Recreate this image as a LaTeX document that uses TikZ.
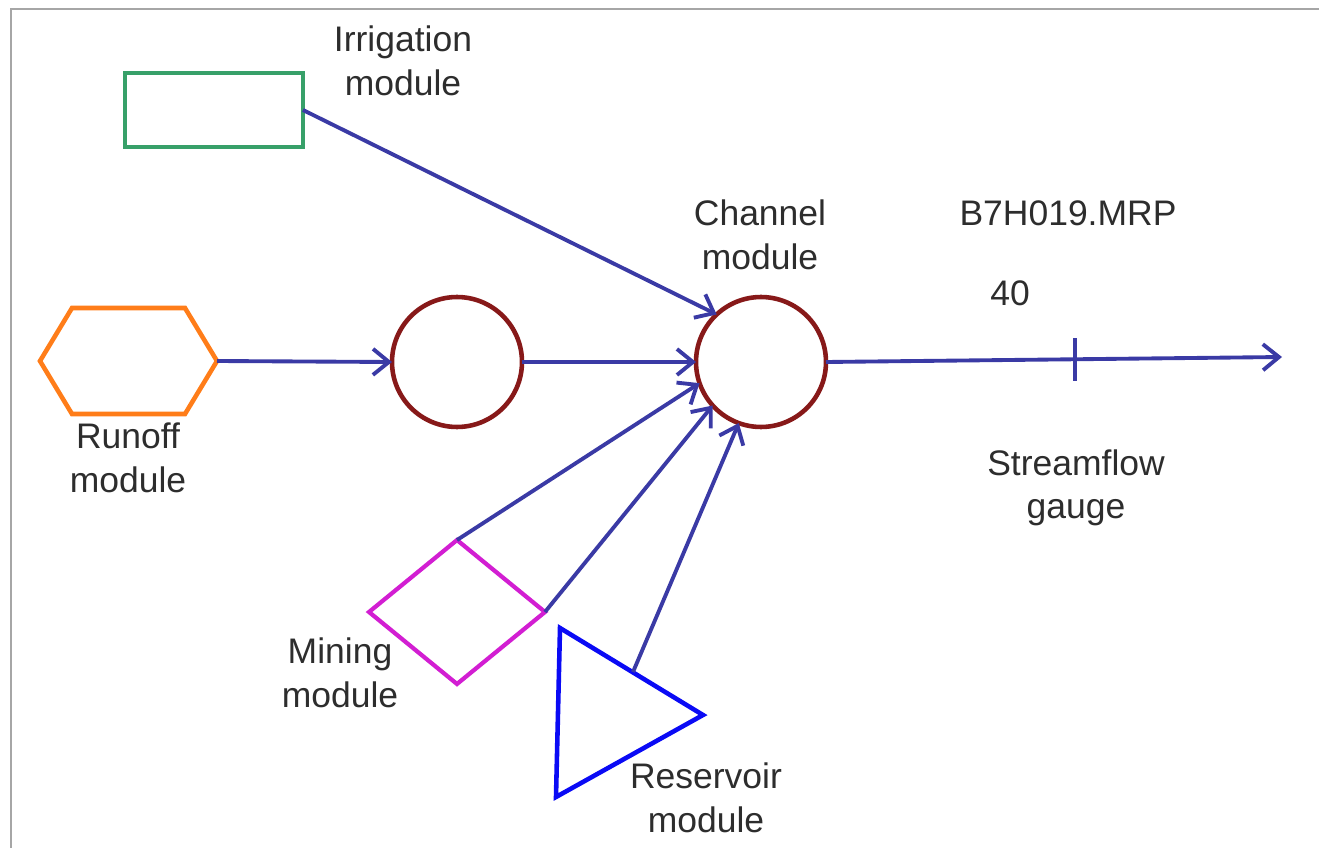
\documentclass[tikz,border=0pt]{standalone}
\usepackage{fontspec}
\setmainfont{Liberation Sans}
\usetikzlibrary{arrows.meta,shapes.geometric}

\definecolor{flowblue}{RGB}{58,58,165}
\definecolor{irrgreen}{RGB}{55,160,105}
\definecolor{runorange}{RGB}{255,125,25}
\definecolor{chanred}{RGB}{135,25,25}
\definecolor{minemag}{RGB}{210,30,210}
\definecolor{resblue}{RGB}{10,10,245}
\definecolor{labelgray}{RGB}{45,45,45}

\tikzset{
    flow/.style={draw=flowblue, line width=2.2pt, -{Straight Barb[length=3.2mm,width=5.2mm]}},
    link/.style={draw=flowblue, line width=2.2pt},
    modlabel/.style={align=center, text=labelgray, font=\fontsize{20.2}{24.8}\selectfont},
    junction/.style={circle, draw=chanred, line width=2.6pt, minimum size=2.6cm, outer sep=0pt},
}

\begin{document}
\begin{tikzpicture}[x=0.02cm, y=-0.02cm]
    \useasboundingbox (0,0) rectangle (1319,848);
    \draw[gray!70, line width=1.5pt] (11,848) -- (11,9) -- (1319,9);

    \node[draw=irrgreen, line width=2.6pt, minimum width=3.56cm, minimum height=1.48cm, outer sep=0pt] (irr) at (214,110) {};
    \draw[runorange, line width=2.6pt] (40,361) -- (72,308) -- (185,308) -- (217,361) -- (185,414) -- (72,414) -- cycle;
    \coordinate (runoff) at (217,361);
    \node[junction] (node1) at (457,362) {};
    \node[junction] (chan) at (761,362) {};
    \node[diamond, draw=minemag, line width=2.4pt, minimum width=3.52cm, minimum height=2.88cm, outer sep=0pt] (mine) at (457,612) {};
    \draw[resblue, line width=2.6pt, line join=miter] (560,628) -- (703,715) -- (556,797) -- cycle;
    \coordinate (res) at (633,672);
    \coordinate (outlet) at (1282,357);
    \coordinate (gauge) at (1075,359);

    \draw[flow] (irr.east) -- (chan.133);
    \draw[flow] (runoff) -- (node1.west);
    \draw[flow] (node1.east) -- (chan.west);
    \draw[flow] (mine.north) -- (chan.199);
    \draw[flow] (mine.east) -- (chan.222);
    \draw[flow] (res) -- (chan.250);
    \draw[flow] (chan.east) -- (outlet);
    \draw[link] (gauge) ++(0,-21) -- ++(0,43);

    \node[modlabel] (irrlabel) at (403,61) {Irrigation\\module};
    \node[modlabel] (chanlabel) at (760,235) {Channel\\module};
    \node[modlabel] (gaugename) at (1068,213) {B7H019.MRP};
    \node[modlabel] (gaugenum) at (1010,293) {40};
    \node[modlabel] (gaugelabel) at (1076,488) {Streamflow\\gauge};
    \node[modlabel] (runlabel) at (128,458) {Runoff\\module};
    \node[modlabel] (minelabel) at (340,673) {Mining\\module};
    \node[modlabel] (reslabel) at (706,798) {Reservoir\\module};
\end{tikzpicture}
\end{document}
